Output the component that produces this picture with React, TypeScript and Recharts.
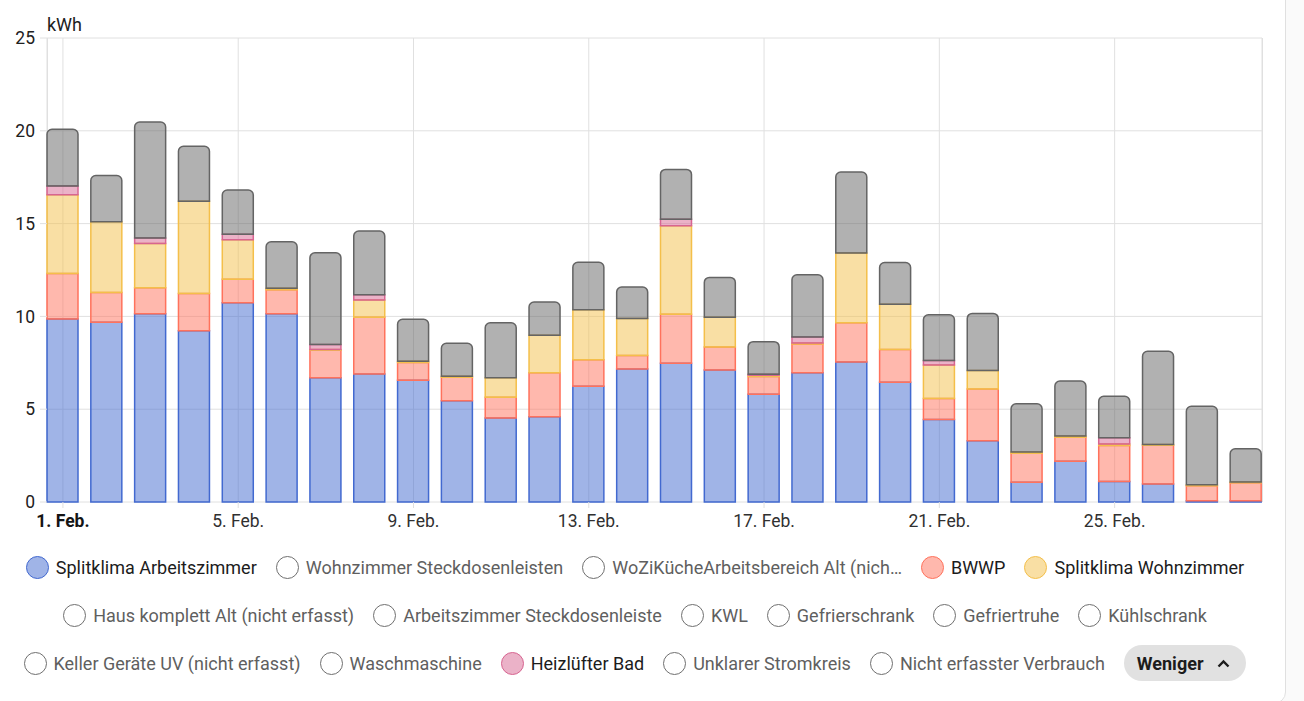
import { Bar, BarChart, CartesianGrid, XAxis, YAxis } from "recharts"

const days = [
  "1. Feb.", "2. Feb.", "3. Feb.", "4. Feb.", "5. Feb.", "6. Feb.", "7. Feb.",
  "8. Feb.", "9. Feb.", "10. Feb.", "11. Feb.", "12. Feb.", "13. Feb.", "14. Feb.",
  "15. Feb.", "16. Feb.", "17. Feb.", "18. Feb.", "19. Feb.", "20. Feb.", "21. Feb.",
  "22. Feb.", "23. Feb.", "24. Feb.", "25. Feb.", "26. Feb.", "27. Feb.", "28. Feb.",
]

const splitklimaArbeitszimmer = [
  9.86, 9.68, 10.14, 9.23, 10.74, 10.14, 6.7, 6.89, 6.56, 5.45, 4.52, 4.59, 6.24, 7.17,
  7.47, 7.11, 5.81, 6.97, 7.54, 6.45, 4.44, 3.3, 1.06, 2.19, 1.11, 0.97, 0.07, 0.07,
]
const bwwp = [
  2.45, 1.61, 1.41, 2.01, 1.26, 1.3, 1.47, 3.07, 0.96, 1.27, 1.13, 2.38, 1.43, 0.73,
  2.64, 1.24, 0.95, 1.54, 2.12, 1.76, 1.13, 2.79, 1.57, 1.3, 1.94, 2.09, 0.81, 0.97,
]
const splitklimaWohnzimmer = [
  4.24, 3.81, 2.38, 4.96, 2.13, 0.08, 0.04, 0.92, 0.06, 0.05, 1.05, 2.01, 2.69, 1.99,
  4.78, 1.6, 0.07, 0.06, 3.75, 2.45, 1.81, 0.99, 0.06, 0.06, 0.07, 0.04, 0.05, 0.04,
]
const heizluefterBad = [
  0.48, 0, 0.3, 0, 0.3, 0, 0.28, 0.28, 0, 0, 0, 0, 0, 0,
  0.34, 0, 0.05, 0.32, 0, 0, 0.25, 0, 0, 0, 0.34, 0, 0, 0,
]
const nichtErfasst = [
  3.05, 2.49, 6.24, 2.97, 2.38, 2.5, 4.94, 3.44, 2.26, 1.78, 2.96, 1.79, 2.56, 1.69,
  2.69, 2.15, 1.76, 3.35, 4.37, 2.24, 2.46, 3.08, 2.6, 2.97, 2.24, 5.02, 4.23, 1.79,
]

const yTicks = [0, 5, 10, 15, 20, 25]

const BLUE = "#4269d0"
const RED = "#ff725c"
const YELLOW = "#f4bf4a"
const PINK = "#d76591"
const GREY = "#646464"
const GRID = "#e0e0e0"
const FONT = "Roboto, sans-serif"

const data = days.map((label, i) => ({
  label,
  blue: splitklimaArbeitszimmer[i],
  red: bwwp[i],
  yellow: splitklimaWohnzimmer[i],
  pink: heizluefterBad[i],
  grey: nichtErfasst[i],
}))

type LegendItem = { name: string; color?: string }

const legendRows: LegendItem[][] = [
  [
    { name: "Splitklima Arbeitszimmer", color: BLUE },
    { name: "Wohnzimmer Steckdosenleisten" },
    { name: "WoZiKücheArbeitsbereich Alt (nich…" },
    { name: "BWWP", color: RED },
    { name: "Splitklima Wohnzimmer", color: YELLOW },
  ],
  [
    { name: "Haus komplett Alt (nicht erfasst)" },
    { name: "Arbeitszimmer Steckdosenleiste" },
    { name: "KWL" },
    { name: "Gefrierschrank" },
    { name: "Gefriertruhe" },
    { name: "Kühlschrank" },
  ],
  [
    { name: "Keller Geräte UV (nicht erfasst)" },
    { name: "Waschmaschine" },
    { name: "Heizlüfter Bad", color: PINK },
    { name: "Unklarer Stromkreis" },
    { name: "Nicht erfasster Verbrauch" },
  ],
]

function DayTick(props: any) {
  const { x, y, payload } = props
  const first = payload.value === days[0]
  return (
    <text
      x={x}
      y={y}
      dy="0.71em"
      textAnchor="middle"
      fontSize={17.5}
      fontFamily={FONT}
      fontWeight={first ? 700 : 400}
      fill={first ? "#141414" : "#303030"}
    >
      {payload.value}
    </text>
  )
}

function LegendEntry({ item }: { item: LegendItem }) {
  const active = !!item.color
  return (
    <div style={{ display: "flex", alignItems: "center", gap: 7 }}>
      <span
        style={{
          width: 21,
          height: 21,
          borderRadius: "50%",
          boxSizing: "content-box",
          border: `1.5px solid ${active ? item.color : "#6f6f6f"}`,
          background: active ? item.color + "80" : "#fff",
        }}
      />
      <span style={{ color: active ? "#1c1c1c" : "#5f5f5f", whiteSpace: "nowrap" }}>{item.name}</span>
    </div>
  )
}

export default function App() {
  return (
    <div
      style={{
        position: "absolute",
        left: 0,
        top: 0,
        width: 1304,
        height: 701,
        overflow: "hidden",
        background: "#fafafa",
        fontFamily: FONT,
      }}
    >
      <div
        style={{
          position: "absolute",
          left: -20,
          top: -20,
          width: 1304,
          height: 722,
          background: "#fff",
          border: `1px solid ${GRID}`,
          borderRadius: 12,
        }}
      />
      {/* plot frame, left and right edges */}
      <div
        style={{
          position: "absolute",
          left: 47,
          top: 38,
          width: 1214,
          height: 464,
          borderLeft: `1px solid ${GRID}`,
          borderRight: `1px solid ${GRID}`,
        }}
      />
      <div style={{ position: "absolute", left: 47, top: 14, fontSize: 18, color: "#212121" }}>kWh</div>
      <div style={{ position: "absolute", left: 0, top: 0 }}>
        <BarChart width={1270} height={535} data={data} margin={{ top: 38, right: 8, left: 0, bottom: 0 }} barSize={31}>
          <CartesianGrid stroke={GRID} strokeWidth={1} />
          <XAxis
            dataKey="label"
            interval={3}
            padding={{ left: -6, right: -6 }}
            axisLine={false}
            tickLine={{ stroke: GRID }}
            tickSize={6}
            tickMargin={7}
            tick={<DayTick />}
            height={33}
          />
          <YAxis
            width={47}
            domain={[0, 25]}
            ticks={yTicks}
            axisLine={false}
            tickLine={{ stroke: GRID }}
            tickSize={7}
            tickMargin={5}
            tick={{ fontSize: 17.5, fontFamily: FONT, fill: "#212121" }}
          />
          <Bar dataKey="blue" stackId="a" fill={BLUE} fillOpacity={0.5} stroke={BLUE} strokeWidth={1.5} isAnimationActive={false} />
          <Bar dataKey="red" stackId="a" fill={RED} fillOpacity={0.5} stroke={RED} strokeWidth={1.5} isAnimationActive={false} />
          <Bar dataKey="yellow" stackId="a" fill={YELLOW} fillOpacity={0.5} stroke={YELLOW} strokeWidth={1.5} isAnimationActive={false} />
          <Bar dataKey="pink" stackId="a" fill={PINK} fillOpacity={0.5} stroke={PINK} strokeWidth={1.5} isAnimationActive={false} />
          <Bar
            dataKey="grey"
            stackId="a"
            fill={GREY}
            fillOpacity={0.5}
            stroke={GREY}
            strokeWidth={1.5}
            radius={[5, 5, 0, 0]}
            isAnimationActive={false}
          />
        </BarChart>
      </div>
      <div
        style={{
          position: "absolute",
          left: 0,
          top: 549,
          width: 1270,
          display: "flex",
          flexDirection: "column",
          gap: 12,
          fontSize: 18,
        }}
      >
        {legendRows.map((row, r) => (
          <div key={r} style={{ display: "flex", justifyContent: "center", alignItems: "center", gap: 19, height: 36 }}>
            {row.map((item) => (
              <LegendEntry key={item.name} item={item} />
            ))}
            {r === 2 && (
              <div
                style={{
                  display: "flex",
                  alignItems: "center",
                  gap: 14,
                  height: 36,
                  padding: "0 16px 0 13px",
                  borderRadius: 18,
                  background: "#e1e1e1",
                  fontWeight: 700,
                  color: "#1c1c1c",
                }}
              >
                <span>Weniger</span>
                <svg width="13" height="9" viewBox="0 0 13 9">
                  <path d="M1.5 7.5 L6.5 2.5 L11.5 7.5" fill="none" stroke="#1c1c1c" strokeWidth="2.4" />
                </svg>
              </div>
            )}
          </div>
        ))}
      </div>
    </div>
  )
}
